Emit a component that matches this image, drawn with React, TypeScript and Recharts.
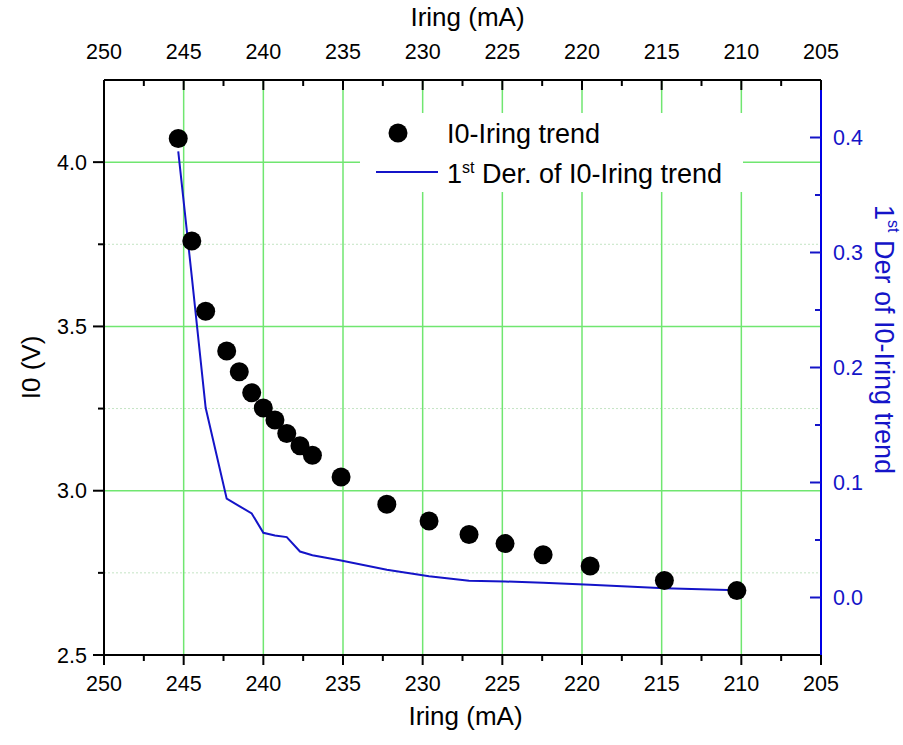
import React from 'react';
import {
  ComposedChart,
  Scatter,
  Line,
  XAxis,
  YAxis,
  ReferenceLine,
  Label,
} from 'recharts';

// values
const iring = [245.34, 244.49, 243.62, 242.3, 241.51, 240.73, 240.0, 239.27, 238.53, 237.7, 236.92, 235.12, 232.25, 229.6, 227.09, 224.83, 222.44, 219.49, 214.83, 210.28];
const i0 = [4.072, 3.76, 3.546, 3.425, 3.362, 3.298, 3.252, 3.215, 3.174, 3.137, 3.108, 3.042, 2.959, 2.908, 2.867, 2.839, 2.805, 2.771, 2.727, 2.696];
const der = [0.388, 0.279, 0.165, 0.0859, 0.0795, 0.0731, 0.0563, 0.054, 0.0525, 0.04, 0.0368, 0.0322, 0.0241, 0.0185, 0.0145, 0.0139, 0.0128, 0.011, 0.0081, 0.0064];

const xTicks = [250, 247.5, 245, 242.5, 240, 237.5, 235, 232.5, 230, 227.5, 225, 222.5, 220, 217.5, 215, 212.5, 210, 207.5, 205];
const leftTicks = [2.5, 2.75, 3.0, 3.25, 3.5, 3.75, 4.0];
const rightTicks = [0, 0.05, 0.1, 0.15, 0.2, 0.25, 0.3, 0.35, 0.4];
const xGrid = [245, 240, 235, 230, 225, 220, 215, 210];
const yGridMajor = [3.0, 3.5, 4.0];
const yGridMinor = [2.75, 3.25, 3.75];

const rows = iring.map((x, i) => ({ x, i0: i0[i], der: der[i] }));

const FONT = '"Liberation Sans", Arial, sans-serif';
const BLUE = '#1414c8';
const GREEN = '#70e670';

function XTick(props: any) {
  const { x, y, payload, side } = props;
  const v = payload.value;
  const major = Math.abs(v % 5) < 1e-6;
  const len = major ? 10 : 6;
  const textY = side === 'bottom' ? y + 36 : y - 21;
  return (
    <g>
      <line x1={x} y1={y} x2={x} y2={y + len} stroke="#000" strokeWidth={2} />
      {major && (
        <text x={x} y={textY} textAnchor="middle" fontSize={21.5} fontFamily={FONT} fill="#000">
          {v}
        </text>
      )}
    </g>
  );
}

function LeftTick(props: any) {
  const { x, y, payload } = props;
  const v = payload.value;
  const major = Math.abs(v * 2 - Math.round(v * 2)) < 1e-6;
  const len = major ? 11 : 6;
  return (
    <g>
      <line x1={x - len} y1={y} x2={x} y2={y} stroke="#000" strokeWidth={2} />
      {major && (
        <text x={x - 17} y={y + 7.5} textAnchor="end" fontSize={21.5} fontFamily={FONT} fill="#000">
          {v.toFixed(1)}
        </text>
      )}
    </g>
  );
}

function RightTick(props: any) {
  const { x, y, payload } = props;
  const v = payload.value;
  const major = Math.round(v * 100) % 10 === 0;
  const len = major ? 11 : 6;
  return (
    <g>
      <line x1={x - len} y1={y} x2={x} y2={y} stroke={BLUE} strokeWidth={2} />
      {major && (
        <text x={x + 12} y={y + 7.5} textAnchor="start" fontSize={21.5} fontFamily={FONT} fill={BLUE}>
          {v.toFixed(1)}
        </text>
      )}
    </g>
  );
}

const Dot = (p: any) => <circle cx={p.cx} cy={p.cy} r={9.5} fill="#000" />;

export default function App() {
  return (
    <div style={{ position: 'absolute', left: 0, top: 0, width: 903, height: 745, background: '#fff' }}>
      <ComposedChart width={903} height={745} data={rows} margin={{ top: 0, right: 0, bottom: 0, left: 0 }}>
        <XAxis
          xAxisId="b"
          type="number"
          dataKey="x"
          domain={[205, 250]}
          reversed
          allowDataOverflow
          ticks={xTicks}
          interval={0}
          height={90}
          tickSize={0}
          tickMargin={0}
          tickLine={false}
          axisLine={{ stroke: '#000', strokeWidth: 2 }}
          tick={(p: any) => <XTick {...p} side="bottom" />}
        >
          <Label
            content={(p: any) => (
              <text x={p.viewBox.x + p.viewBox.width / 2 + 3} y={p.viewBox.y + 70} textAnchor="middle" fontSize={26} fontFamily={FONT} fill="#000">
                Iring (mA)
              </text>
            )}
          />
        </XAxis>
        <XAxis
          xAxisId="t"
          orientation="top"
          type="number"
          dataKey="x"
          domain={[205, 250]}
          reversed
          allowDataOverflow
          ticks={xTicks}
          interval={0}
          height={80}
          tickSize={0}
          tickMargin={0}
          tickLine={false}
          axisLine={{ stroke: '#000', strokeWidth: 2 }}
          tick={(p: any) => <XTick {...p} side="top" />}
        >
          <Label
            content={(p: any) => (
              <text x={p.viewBox.x + p.viewBox.width / 2 + 5} y={p.viewBox.y + 26} textAnchor="middle" fontSize={26} fontFamily={FONT} fill="#000">
                Iring (mA)
              </text>
            )}
          />
        </XAxis>
        <YAxis
          yAxisId="l"
          type="number"
          domain={[2.5, 4.25]}
          allowDataOverflow
          ticks={leftTicks}
          interval={0}
          width={104}
          tickSize={0}
          tickMargin={0}
          tickLine={false}
          axisLine={{ stroke: '#000', strokeWidth: 2 }}
          tick={(p: any) => <LeftTick {...p} />}
        >
          <Label
            content={(p: any) => {
              const cx = 31;
              const cy = p.viewBox.y + p.viewBox.height / 2;
              return (
                <text x={cx} y={cy} transform={`rotate(-90 ${cx} ${cy})`} textAnchor="middle" dominantBaseline="central" fontSize={26} fontFamily={FONT} fill="#000">
                  I0 (V)
                </text>
              );
            }}
          />
        </YAxis>
        <YAxis
          yAxisId="r"
          orientation="right"
          type="number"
          domain={[-0.05, 0.45]}
          allowDataOverflow
          ticks={rightTicks}
          interval={0}
          width={82}
          tickSize={0}
          tickMargin={0}
          tickLine={false}
          axisLine={{ stroke: '#0000e6', strokeWidth: 2 }}
          tick={(p: any) => <RightTick {...p} />}
        >
          <Label
            content={(p: any) => {
              const cx = p.viewBox.x + 63;
              const cy = p.viewBox.y + p.viewBox.height / 2 - 28;
              return (
                <text x={cx} y={cy} transform={`rotate(90 ${cx} ${cy})`} textAnchor="middle" dominantBaseline="central" fontSize={27} fontFamily={FONT} fill={BLUE}>
                  1<tspan dy={-10} fontSize={16}>st</tspan>
                  <tspan dy={10}> Der of I0-Iring trend</tspan>
                </text>
              );
            }}
          />
        </YAxis>

        {yGridMinor.map((v) => (
          <ReferenceLine key={'m' + v} xAxisId="b" yAxisId="l" y={v} stroke="#c4e4c4" strokeWidth={1} strokeDasharray="2 2" />
        ))}
        {yGridMajor.map((v) => (
          <ReferenceLine key={'y' + v} xAxisId="b" yAxisId="l" y={v} stroke={GREEN} strokeWidth={1.5} />
        ))}
        {xGrid.map((v) => (
          <ReferenceLine key={'x' + v} xAxisId="b" yAxisId="l" x={v} stroke={GREEN} strokeWidth={1.5} />
        ))}

        <Scatter
          name="I0-Iring trend"
          xAxisId="b"
          yAxisId="l"
          data={rows}
          dataKey="i0"
          shape={Dot}
          isAnimationActive={false}
        />
        <Line
          name="1st Der. of I0-Iring trend"
          xAxisId="b"
          yAxisId="r"
          type="linear"
          dataKey="der"
          stroke={BLUE}
          strokeWidth={2}
          dot={false}
          activeDot={false}
          isAnimationActive={false}
        />
      </ComposedChart>

      {/* legend box */}
      <div style={{ position: 'absolute', left: 360, top: 113, width: 383, height: 79, background: '#fff' }}>
        <svg width={383} height={79} style={{ fontFamily: FONT }}>
          <circle cx={38} cy={20} r={9.5} fill="#000" />
          <text x={87} y={30} fontSize={27} fill="#000">I0-Iring trend</text>
          <line x1={16} y1={59} x2={78} y2={59} stroke={BLUE} strokeWidth={2} />
          <text x={87} y={70} fontSize={27} fill="#000">
            1<tspan dy={-10} fontSize={16}>st</tspan>
            <tspan dy={10}> Der. of I0-Iring trend</tspan>
          </text>
        </svg>
      </div>
    </div>
  );
}
